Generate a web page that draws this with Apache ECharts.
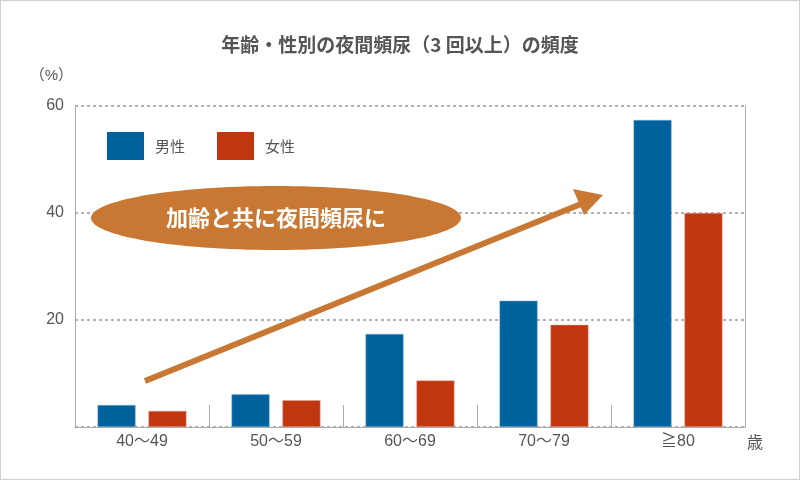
<!DOCTYPE html>
<html>
<head>
<meta charset="utf-8">
<script src="https://cdn.jsdelivr.net/npm/echarts@6/dist/echarts.min.js"></script>
<style>
    html, body { margin: 0; padding: 0; background: #fff; }
    #chart { width: 798px; height: 478px; border: 1px solid #d0d0d0; }
</style>
</head>
<body>
<div id="chart"></div>
<script>
    var ageGroups = ['40～49', '50～59', '60～69', '70～79', '≧80'];
    var maleRate = [4.1, 6.1, 17.4, 23.6, 57.4];
    var femaleRate = [3.0, 5.0, 8.7, 19.1, 40.0];
    var yTicks = [0, 20, 40, 60];

    var FONT = '"Noto Sans CJK JP", "Noto Sans", sans-serif';
    var NUMFONT = '"Liberation Sans", "Noto Sans CJK JP", sans-serif';
    var myChart = echarts.init(document.getElementById('chart'));

    var option = {
        animation: false,
        textStyle: { fontFamily: FONT },
        title: {
            text: '年齢・性別の夜間頻尿（3 回以上）の頻度',
            left: 'center',
            top: 29,
            textStyle: { fontSize: 19, fontWeight: 'bold', color: '#555', fontFamily: FONT }
        },
        legend: {
            left: 106,
            top: 131,
            padding: 0,
            itemWidth: 37,
            itemHeight: 28,
            itemGap: 32,
            icon: 'rect',
            itemStyle: { borderWidth: 0 },
            textStyle: { fontSize: 15, color: '#555', padding: [0, 0, 0, 6] },
            data: ['男性', '女性']
        },
        grid: { left: 74, right: 54, top: 105, bottom: 52 },
        xAxis: {
            type: 'category',
            data: ageGroups,
            name: '歳',
            nameLocation: 'end',
            nameGap: 2,
            nameTextStyle: { fontSize: 16, color: '#555', verticalAlign: 'top', padding: [7, 0, 0, 0] },
            axisLine: { lineStyle: { color: '#aaa', width: 1 } },
            axisTick: { show: true, inside: true, length: 22, alignWithLabel: false, lineStyle: { color: '#aaa' } },
            axisLabel: { fontSize: 16, color: '#555', margin: 7, fontFamily: NUMFONT }
        },
        yAxis: [{
            type: 'value',
            min: yTicks[0],
            max: yTicks[yTicks.length - 1],
            interval: 20,
            name: '（%）',
            nameLocation: 'end',
            nameGap: 30,
            nameTextStyle: { fontSize: 15, color: '#555', align: 'right', verticalAlign: 'middle', padding: [0, 2, 0, 0], fontFamily: NUMFONT },
            axisLine: { show: true, lineStyle: { color: '#aaa' } },
            axisTick: { show: false },
            axisLabel: {
                fontSize: 16, color: '#555', margin: 11, fontFamily: NUMFONT,
                formatter: function (v) { return v === 0 ? '' : v; }
            },
            splitLine: { show: true, lineStyle: { color: '#999', type: [3, 3], width: 1.5 } }
        }, {
            type: 'value',
            position: 'right',
            min: 0,
            max: 60,
            interval: 20,
            axisLine: { show: true, lineStyle: { color: '#aaa' } },
            axisTick: { show: false },
            axisLabel: { show: false },
            splitLine: { show: false }
        }],
        series: [{
            name: '男性',
            type: 'bar',
            data: maleRate,
            barWidth: 38,
            barGap: '34%',
            itemStyle: { color: '#00629d', borderColor: '#7fb0d0', borderWidth: 0.5 }
        }, {
            name: '女性',
            type: 'bar',
            data: femaleRate,
            barWidth: 38,
            itemStyle: { color: '#c0370f', borderColor: '#e0a090', borderWidth: 0.5 }
        }],
        graphic: [{
            type: 'line',
            shape: { x1: 144, y1: 380, x2: 585, y2: 201 },
            style: { stroke: '#c87832', lineWidth: 6 },
            z: 10
        }, {
            type: 'polygon',
            shape: { points: [[602, 194], [572, 188], [583, 214]] },
            style: { fill: '#c87832' },
            z: 10
        }, {
            type: 'ellipse',
            shape: { cx: 275, cy: 217, rx: 185, ry: 32 },
            style: { fill: '#c87832' },
            z: 10
        }, {
            type: 'text',
            x: 275,
            y: 217,
            style: {
                text: '加齢と共に夜間頻尿に',
                fill: '#fff',
                fontSize: 22,
                fontWeight: 'bold',
                fontFamily: FONT,
                align: 'center',
                verticalAlign: 'middle'
            },
            z: 11
        }]
    };
    myChart.setOption(option);
</script>
</body>
</html>
